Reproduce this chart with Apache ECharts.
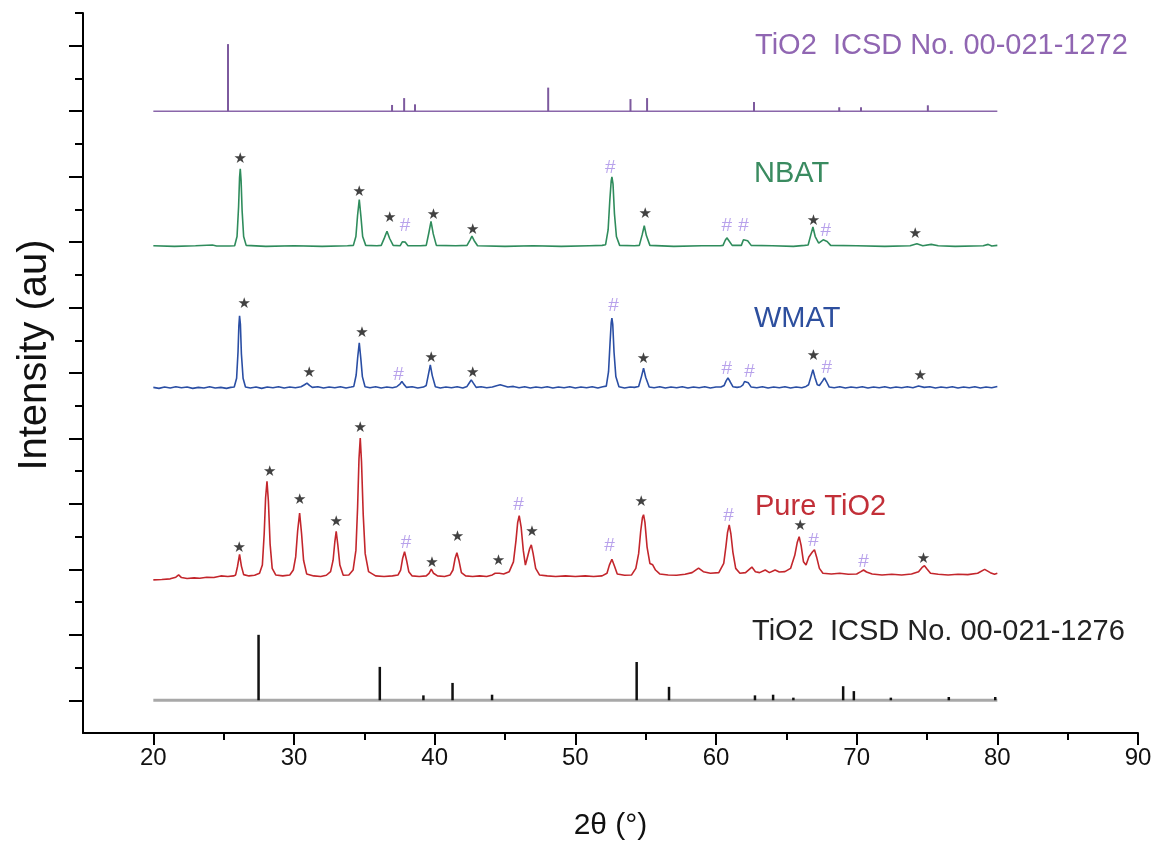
<!DOCTYPE html>
<html>
<head>
<meta charset="utf-8">
<script src="https://cdn.jsdelivr.net/npm/echarts@6/dist/echarts.min.js"></script>
<style>
  html, body { margin: 0; padding: 0; background: #fff; }
  #chart { width: 1162px; height: 846px; }
</style>
</head>
<body>
<div id="chart"></div>
<script>
// ---- axis ticks ----
const xTicksMajor = [20, 30, 40, 50, 60, 70, 80, 90];
const xTicksMinor = [25, 35, 45, 55, 65, 75, 85];
const yTicksLong = [1, 3, 5, 7, 9, 11, 13, 15, 17, 19, 21];
const yTicksShort = [2, 4, 6, 8, 10, 12, 14, 16, 18, 20, 22];

// ---- vertical offsets of each pattern (stacked display) ----
const OFFSET_ANATASE = 19.0;
const OFFSET_NBAT = 14.87;
const OFFSET_WMAT = 10.54;
const OFFSET_PURE = 4.68;
const OFFSET_RUTILE = 1.0;

// ---- reference stick patterns: [2theta, relative intensity] ----
const anataseRef = [[25.31, 2.05], [36.97, 0.19], [37.83, 0.40], [38.60, 0.21], [48.07, 0.72],
  [53.92, 0.37], [55.10, 0.40], [62.70, 0.28], [68.76, 0.12], [70.31, 0.12], [75.06, 0.18]];
const rutileRef = [[27.48, 2.00], [36.10, 1.02], [39.20, 0.15], [41.27, 0.53], [44.08, 0.17],
  [54.36, 1.17], [56.66, 0.41], [62.77, 0.15], [64.06, 0.17], [65.50, 0.08], [69.04, 0.43],
  [69.80, 0.28], [72.43, 0.08], [76.55, 0.10], [79.85, 0.10]];

// ---- measured patterns: [2theta, intensity above baseline] ----
const nbat = [
  [20, 0.02], [21.5, 0.0], [23, 0.02], [24.2, 0.04], [24.5, 0.01], [25.4, 0.01],
  [25.78, 0.02], [25.95, 0.3], [26.06, 1.2], [26.13, 2.1], [26.18, 2.37], [26.24, 2.0], [26.31, 1.1], [26.42, 0.3], [26.6, 0.03],
  [28, 0.0], [30, 0.02], [32, 0.0], [33.8, 0.02],
  [34.22, 0.03], [34.4, 0.3], [34.52, 0.95], [34.64, 1.43], [34.76, 0.9], [34.88, 0.3], [35.1, 0.03],
  [35.9, 0.02],
  [36.2, 0.03], [36.42, 0.25], [36.61, 0.46], [36.8, 0.24], [37.05, 0.03],
  [37.55, 0.02], [37.7, 0.14], [37.79, 0.2], [37.9, 0.13], [38.1, 0.02],
  [39.0, 0.02],
  [39.4, 0.03], [39.58, 0.4], [39.74, 0.76], [39.9, 0.38], [40.12, 0.03],
  [41.5, 0.02],
  [42.3, 0.03], [42.52, 0.2], [42.65, 0.31], [42.8, 0.18], [43.05, 0.02],
  [45, 0.0], [47, 0.02], [49, 0.0], [51, 0.02], [51.9, 0.03],
  [52.15, 0.05], [52.33, 0.5], [52.45, 1.4], [52.55, 2.0], [52.6, 2.12], [52.68, 1.9], [52.78, 1.0], [52.92, 0.3], [53.15, 0.03],
  [54.2, 0.02],
  [54.55, 0.03], [54.75, 0.35], [54.9, 0.63], [55.05, 0.33], [55.3, 0.03],
  [57, 0.0], [59, 0.02], [60.3, 0.02],
  [60.5, 0.03], [60.65, 0.18], [60.77, 0.26], [60.92, 0.17], [61.15, 0.03],
  [61.6, 0.03],
  [61.8, 0.03], [61.95, 0.2], [62.08, 0.26], [62.25, 0.17], [62.5, 0.03],
  [64, 0.02], [65.5, 0.0], [66.3, 0.03],
  [66.55, 0.04], [66.74, 0.35], [66.89, 0.59], [67.05, 0.3], [67.3, 0.1],
  [67.62, 0.2], [67.76, 0.26], [67.9, 0.15], [68.15, 0.03],
  [70, 0.02], [72, 0.0], [73.8, 0.02], [74.28, 0.08], [74.7, 0.02], [75.3, 0.06], [75.8, 0.02],
  [77, 0.0], [79, 0.02], [79.35, 0.06], [79.6, 0.01], [80, 0.03]
];

const wmat = [
  [20, 0.02], [20.4, -0.01], [20.8, 0.03], [21.2, 0.0], [21.6, 0.04], [22.0, 0.01], [22.4, 0.03], [22.8, -0.01],
  [23.2, 0.02], [23.6, 0.0], [24.0, 0.04], [24.4, 0.0], [24.8, 0.02], [25.2, -0.01], [25.5, 0.02],
  [25.75, 0.03], [25.92, 0.3], [26.02, 1.1], [26.08, 1.9], [26.13, 2.21], [26.19, 1.95], [26.26, 1.05], [26.38, 0.3], [26.55, 0.03],
  [26.9, 0.0], [27.3, 0.03], [27.7, -0.01], [28.1, 0.03], [28.5, 0.01], [28.9, 0.04], [29.3, 0.0], [29.7, 0.03], [30.1, 0.01], [30.5, 0.04],
  [30.75, 0.1], [30.92, 0.15], [31.1, 0.08], [31.3, 0.02],
  [31.7, 0.04], [32.1, 0.0], [32.5, 0.03], [32.9, 0.01], [33.3, 0.04], [33.7, 0.0], [34.05, 0.03],
  [34.25, 0.05], [34.42, 0.4], [34.53, 0.95], [34.64, 1.38], [34.75, 0.9], [34.86, 0.35], [35.05, 0.04],
  [35.4, 0.01], [35.8, 0.04], [36.2, 0.0], [36.6, 0.03], [37.0, 0.01], [37.3, 0.04],
  [37.55, 0.13], [37.67, 0.2], [37.8, 0.12], [38.0, 0.02],
  [38.4, 0.04], [38.8, 0.0], [39.2, 0.03],
  [39.4, 0.08], [39.55, 0.4], [39.69, 0.71], [39.83, 0.38], [40.05, 0.04],
  [40.4, 0.0], [40.8, 0.03], [41.2, 0.01], [41.6, 0.04], [42.0, 0.0], [42.3, 0.05],
  [42.48, 0.17], [42.6, 0.25], [42.75, 0.15], [42.95, 0.02],
  [43.3, 0.04], [43.7, 0.01], [44.1, 0.03], [44.4, 0.07], [44.66, 0.1], [44.9, 0.07], [45.2, 0.03], [45.6, 0.05],
  [46.0, 0.01], [46.4, 0.04], [46.8, 0.0], [47.2, 0.03], [47.6, 0.01], [48.0, 0.04], [48.4, 0.0], [48.8, 0.03],
  [49.2, 0.01], [49.6, 0.04], [50.0, 0.0], [50.4, 0.03], [50.8, 0.01], [51.2, 0.04], [51.6, 0.0], [51.95, 0.04],
  [52.2, 0.06], [52.36, 0.5], [52.47, 1.4], [52.55, 2.0], [52.6, 2.14], [52.66, 1.95], [52.75, 1.1], [52.88, 0.35], [53.1, 0.04],
  [53.5, 0.0], [53.9, 0.03], [54.2, 0.02],
  [54.5, 0.05], [54.7, 0.35], [54.85, 0.61], [55.0, 0.33], [55.25, 0.03],
  [55.6, 0.01], [56.0, 0.04], [56.4, 0.0], [56.8, 0.03], [57.2, 0.01], [57.6, 0.04], [58.0, 0.0], [58.4, 0.03],
  [58.8, 0.01], [59.2, 0.04], [59.6, 0.0], [60.0, 0.03], [60.35, 0.03],
  [60.58, 0.08], [60.72, 0.22], [60.85, 0.31], [61.0, 0.2], [61.2, 0.04],
  [61.5, 0.02], [61.75, 0.04],
  [61.92, 0.1], [62.03, 0.2], [62.15, 0.25], [62.3, 0.16], [62.5, 0.03],
  [62.9, 0.01], [63.3, 0.04], [63.7, 0.0], [64.1, 0.03], [64.5, 0.01], [64.9, 0.04], [65.3, 0.0], [65.7, 0.03], [66.1, 0.01], [66.4, 0.05],
  [66.58, 0.1], [66.75, 0.35], [66.89, 0.56], [67.03, 0.33], [67.2, 0.1], [67.35, 0.08],
  [67.58, 0.22], [67.71, 0.31], [67.85, 0.2], [68.05, 0.03],
  [68.4, 0.01], [68.8, 0.04], [69.2, 0.0], [69.6, 0.03], [70.0, 0.01], [70.4, 0.04], [70.8, 0.0], [71.2, 0.03],
  [71.6, 0.01], [72.0, 0.04], [72.4, 0.0], [72.8, 0.03], [73.2, 0.01], [73.6, 0.04], [74.0, 0.01], [74.4, 0.06],
  [74.8, 0.02], [75.2, 0.04], [75.6, 0.0], [76.0, 0.03], [76.4, 0.01], [76.8, 0.04], [77.2, 0.0], [77.6, 0.03],
  [78.0, 0.01], [78.4, 0.04], [78.8, 0.0], [79.2, 0.03], [79.6, 0.01], [80, 0.05]
];

const pureTiO2 = [
  [20, 0.0], [20.6, 0.01], [21.2, 0.03], [21.6, 0.08], [21.8, 0.15], [22.0, 0.07], [22.4, 0.04], [22.9, 0.06],
  [23.3, 0.05], [23.8, 0.08], [24.3, 0.07], [24.8, 0.12], [25.3, 0.1], [25.7, 0.12],
  [25.85, 0.15], [25.98, 0.4], [26.13, 0.78], [26.26, 0.42], [26.42, 0.16],
  [26.8, 0.12], [27.2, 0.14], [27.55, 0.2],
  [27.75, 0.45], [27.88, 1.4], [27.98, 2.5], [28.08, 3.01], [28.18, 2.4], [28.3, 1.1], [28.45, 0.35], [28.7, 0.15],
  [29.2, 0.12], [29.7, 0.15], [29.95, 0.3],
  [30.12, 0.7], [30.26, 1.5], [30.4, 2.04], [30.54, 1.4], [30.68, 0.6], [30.9, 0.18],
  [31.4, 0.12], [31.9, 0.1], [32.3, 0.14], [32.6, 0.25],
  [32.78, 0.6], [32.9, 1.15], [33.0, 1.48], [33.12, 1.05], [33.26, 0.45], [33.5, 0.14],
  [33.9, 0.15], [34.2, 0.3],
  [34.4, 0.9], [34.52, 2.2], [34.62, 3.7], [34.71, 4.33], [34.8, 3.6], [34.92, 2.0], [35.06, 0.8], [35.3, 0.25],
  [35.8, 0.12], [36.4, 0.1], [37.0, 0.12], [37.4, 0.15],
  [37.58, 0.3], [37.72, 0.65], [37.86, 0.86], [38.0, 0.6], [38.16, 0.25], [38.4, 0.12],
  [38.9, 0.1], [39.4, 0.12],
  [39.6, 0.2], [39.76, 0.33], [39.92, 0.2], [40.2, 0.12],
  [40.7, 0.1], [41.1, 0.15],
  [41.3, 0.3], [41.45, 0.65], [41.58, 0.83], [41.72, 0.6], [41.9, 0.22], [42.2, 0.12],
  [42.7, 0.1], [43.2, 0.12], [43.7, 0.1], [44.1, 0.15],
  [44.3, 0.2], [44.43, 0.25], [44.6, 0.2], [44.9, 0.18], [45.3, 0.25], [45.6, 0.55],
  [45.78, 1.2], [45.9, 1.75], [46.01, 1.96], [46.15, 1.6], [46.3, 0.9], [46.45, 0.45],
  [46.6, 0.7],
  [46.75, 0.95], [46.87, 1.07], [47.0, 0.8], [47.18, 0.35], [47.45, 0.15],
  [48, 0.12], [48.6, 0.1], [49.3, 0.12], [50, 0.1], [50.7, 0.12], [51.3, 0.1], [51.9, 0.12], [52.25, 0.2],
  [52.42, 0.45], [52.6, 0.63], [52.78, 0.42], [52.98, 0.18],
  [53.5, 0.14], [54.0, 0.15], [54.3, 0.35],
  [54.5, 0.8], [54.65, 1.5], [54.77, 1.9], [54.85, 1.99], [54.95, 1.75], [55.1, 1.0], [55.3, 0.5], [55.5, 0.46], [55.7, 0.3], [56, 0.18],
  [56.6, 0.15], [57.2, 0.14], [57.8, 0.17], [58.3, 0.22], [58.76, 0.36], [59.1, 0.25], [59.6, 0.2], [60.2, 0.22], [60.55, 0.5],
  [60.7, 1.0], [60.82, 1.45], [60.94, 1.68], [61.06, 1.4], [61.2, 0.85], [61.4, 0.35], [61.7, 0.2],
  [62.1, 0.22], [62.55, 0.39], [62.8, 0.25], [63.1, 0.22], [63.5, 0.3], [63.8, 0.22], [64.2, 0.3], [64.5, 0.24],
  [64.9, 0.25], [65.3, 0.35], [65.6, 0.75],
  [65.78, 1.15], [65.91, 1.32], [66.05, 1.05], [66.22, 0.55], [66.4, 0.45],
  [66.6, 0.7],
  [66.85, 0.85], [67.0, 0.92], [67.15, 0.7], [67.35, 0.35], [67.6, 0.2],
  [68.2, 0.18], [68.8, 0.2], [69.4, 0.17], [70.0, 0.18], [70.3, 0.25], [70.49, 0.3], [70.7, 0.24], [71.1, 0.18],
  [71.8, 0.15], [72.5, 0.17], [73.2, 0.15], [73.9, 0.18], [74.4, 0.25],
  [74.65, 0.38], [74.82, 0.43], [75.0, 0.33], [75.25, 0.2],
  [75.8, 0.17], [76.5, 0.15], [77.2, 0.17], [77.9, 0.16], [78.6, 0.2], [79.1, 0.32], [79.5, 0.22], [79.8, 0.17], [80, 0.2]
];

// ---- phase markers: [2theta, level on the stacked scale] ----
// ★ rutile reflections, # anatase reflections
const starsNBAT = [[26.18, 17.55], [34.64, 16.52], [36.8, 15.72], [39.92, 15.81], [42.7, 15.36], [54.97, 15.84], [66.93, 15.64], [74.16, 15.23]];
const hashNBAT = [[37.9, 15.5], [52.48, 17.27], [60.77, 15.5], [61.96, 15.5], [67.81, 15.36]];
const starsWMAT = [[26.47, 13.09], [31.09, 11.0], [34.83, 12.22], [39.76, 11.46], [42.7, 11.0], [54.85, 11.41], [66.93, 11.51], [74.51, 10.92]];
const hashWMAT = [[37.43, 10.95], [52.72, 13.06], [60.77, 11.12], [62.38, 11.05], [67.88, 11.15]];
const starsPure = [[26.11, 5.65], [28.27, 7.96], [30.4, 7.13], [33.01, 6.43], [34.71, 9.32], [39.81, 5.19], [41.63, 6.0], [44.54, 5.24], [46.91, 6.13], [54.68, 7.04], [65.98, 6.31], [74.75, 5.31]];
const hashPure = [[37.96, 5.82], [45.96, 6.97], [52.43, 5.72], [60.89, 6.64], [66.93, 5.87], [70.48, 5.24]];

// ---- pattern names ----
const labelAnatase = 'TiO2  ICSD No. 00-021-1272';
const labelNBAT = 'NBAT';
const labelWMAT = 'WMAT';
const labelPure = 'Pure TiO2';
const labelRutile = 'TiO2  ICSD No. 00-021-1276';

const shift = (arr, off) => arr.map(([x, y]) => [x, y + off]);
const sticks = (arr, off) => arr.map(([x, h]) => [x, off, off + h]);

function stickSeries(arr, off, color, width) {
  return {
    type: 'custom',
    data: sticks(arr, off),
    encode: { x: 0, y: [1, 2] },
    silent: true,
    z: 3,
    renderItem: (params, api) => {
      const p0 = api.coord([api.value(0), api.value(1)]);
      const p1 = api.coord([api.value(0), api.value(2)]);
      return {
        type: 'line',
        shape: { x1: p0[0], y1: p0[1], x2: p1[0], y2: p1[1] },
        style: { stroke: color, lineWidth: width }
      };
    }
  };
}

function lineSeries(data, color, width) {
  return {
    type: 'line', data: data, showSymbol: false, symbol: 'none', silent: true,
    lineStyle: { color: color, width: width }, z: 2
  };
}

function markerSeries(data, text, color, size, font) {
  return {
    type: 'scatter', data: data, symbolSize: 1, silent: true, z: 5,
    itemStyle: { color: 'rgba(0,0,0,0)' },
    label: { show: true, position: 'inside', formatter: text, color: color, fontSize: size, fontFamily: font }
  };
}

const TEXT_FONT = "'Liberation Sans', Arial, sans-serif";
const LABEL_FONT = "29px 'Liberation Sans', Arial, sans-serif";
const STAR_FONT = "'DejaVu Sans', sans-serif";
const HASH_COLOR = '#a68be6';

const chart = echarts.init(document.getElementById('chart'), null, { renderer: 'canvas' });
chart.setOption({
  animation: false,
  backgroundColor: '#ffffff',
  grid: { left: 83, right: 24, top: 13, bottom: 113, containLabel: false },
  xAxis: [
    {
      type: 'value', min: 15, max: 90,
      name: '2θ (°)', nameLocation: 'middle', nameGap: 78,
      nameTextStyle: { fontSize: 30, color: '#111', fontFamily: TEXT_FONT },
      axisLine: { show: true, onZero: false, lineStyle: { color: '#000', width: 2 } },
      axisTick: { show: true, customValues: xTicksMajor, length: 12, inside: false, lineStyle: { color: '#000', width: 2 } },
      axisLabel: { show: true, customValues: xTicksMajor, margin: 13, fontSize: 24, color: '#111', fontFamily: TEXT_FONT },
      splitLine: { show: false }
    },
    {
      type: 'value', min: 15, max: 90, position: 'bottom',
      axisLine: { show: false },
      axisTick: { show: true, customValues: xTicksMinor, length: 7, inside: false, lineStyle: { color: '#000', width: 2 } },
      axisLabel: { show: false },
      splitLine: { show: false }
    }
  ],
  yAxis: [
    {
      type: 'value', min: 0, max: 22,
      name: 'Intensity (au)', nameLocation: 'middle', nameGap: 28, nameRotate: 90,
      nameTextStyle: { fontSize: 40, color: '#111', fontFamily: TEXT_FONT, padding: [0, 0, 0, 36] },
      axisLine: { show: true, onZero: false, lineStyle: { color: '#000', width: 2 } },
      axisTick: { show: true, customValues: yTicksLong, length: 14, inside: false, lineStyle: { color: '#000', width: 2 } },
      axisLabel: { show: false },
      splitLine: { show: false }
    },
    {
      type: 'value', min: 0, max: 22, position: 'left',
      axisLine: { show: false },
      axisTick: { show: true, customValues: yTicksShort, length: 8, inside: false, lineStyle: { color: '#000', width: 2 } },
      axisLabel: { show: false },
      splitLine: { show: false }
    }
  ],
  series: [
    lineSeries([[20, OFFSET_ANATASE], [80, OFFSET_ANATASE]], '#8a66aa', 1.5),
    stickSeries(anataseRef, OFFSET_ANATASE, '#7d5a9e', 2),
    lineSeries(shift(nbat, OFFSET_NBAT), '#2f8c5c', 1.6),
    lineSeries(shift(wmat, OFFSET_WMAT), '#2a4ea4', 1.6),
    lineSeries(shift(pureTiO2, OFFSET_PURE), '#c3262c', 1.6),
    lineSeries([[20, OFFSET_RUTILE], [80, OFFSET_RUTILE]], '#a8a8a8', 3),
    stickSeries(rutileRef, OFFSET_RUTILE, '#111111', 2.5),
    markerSeries(starsNBAT, '★', '#111', 15, STAR_FONT),
    markerSeries(hashNBAT, '#', HASH_COLOR, 19, TEXT_FONT),
    markerSeries(starsWMAT, '★', '#111', 15, STAR_FONT),
    markerSeries(hashWMAT, '#', HASH_COLOR, 19, TEXT_FONT),
    markerSeries(starsPure, '★', '#111', 15, STAR_FONT),
    markerSeries(hashPure, '#', HASH_COLOR, 19, TEXT_FONT)
  ],
  graphic: [
    { type: 'text', x: 755, y: 46, silent: true, style: { text: labelAnatase, font: LABEL_FONT, fill: '#9066b2', verticalAlign: 'middle', textVerticalAlign: 'middle' } },
    { type: 'text', x: 754, y: 174, silent: true, style: { text: labelNBAT, font: LABEL_FONT, fill: '#3a8b60', verticalAlign: 'middle', textVerticalAlign: 'middle' } },
    { type: 'text', x: 754, y: 319, silent: true, style: { text: labelWMAT, font: LABEL_FONT, fill: '#2d4f9e', verticalAlign: 'middle', textVerticalAlign: 'middle' } },
    { type: 'text', x: 755, y: 507, silent: true, style: { text: labelPure, font: LABEL_FONT, fill: '#c22f38', verticalAlign: 'middle', textVerticalAlign: 'middle' } },
    { type: 'text', x: 752, y: 632, silent: true, style: { text: labelRutile, font: LABEL_FONT, fill: '#222222', verticalAlign: 'middle', textVerticalAlign: 'middle' } }
  ]
});
</script>
</body>
</html>
